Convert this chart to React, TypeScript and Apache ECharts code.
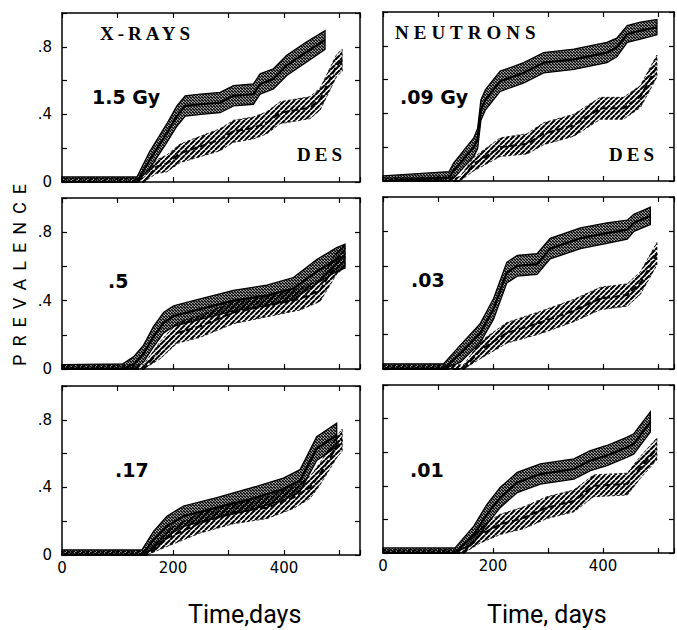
import React, { useEffect, useRef } from 'react';
import * as echarts from 'echarts';

// Each point: [day, prevalence, half-width of the hatched confidence band]
type Pt = [number, number, number];

// X-RAYS 1.5 Gy
const xray15Irr: Pt[] = [[0,0,.03],[135,0,.03],[158,.13,.05],[189,.29,.055],[207,.39,.06],[222,.45,.06],[250,.46,.06],[285,.47,.06],[309,.51,.06],[345,.52,.06],[357,.58,.06],[381,.61,.06],[405,.69,.06],[441,.77,.06],[474,.84,.055]];
const xray15Des: Pt[] = [[0,0,.025],[147,0,.025],[170,.09,.04],[189,.11,.05],[213,.17,.055],[249,.21,.06],[285,.25,.065],[309,.30,.065],[345,.32,.065],[369,.35,.065],[393,.41,.065],[429,.43,.065],[447,.44,.065],[465,.49,.065],[480,.59,.065],[495,.69,.065],[505,.72,.065]];
// NEUTRONS .09 Gy
const neut09Irr: Pt[] = [[0,0,.03],[120,.02,.035],[128,.06,.045],[165,.20,.055],[172,.25,.06],[178,.42,.06],[186,.48,.06],[213,.59,.06],[256,.64,.06],[292,.70,.06],[347,.72,.06],[407,.76,.06],[425,.79,.055],[444,.87,.05],[468,.89,.05],[498,.91,.045]];
const neut09Des: Pt[] = [[0,0,.02],[140,0,.025],[165,.10,.04],[213,.20,.055],[262,.22,.06],[292,.28,.065],[347,.33,.065],[395,.43,.065],[437,.43,.065],[468,.50,.065],[498,.68,.065]];
// X-RAYS .5 Gy
const xray05Irr: Pt[] = [[0,0,.025],[110,0,.03],[130,.03,.045],[147,.09,.05],[165,.19,.06],[183,.27,.06],[201,.31,.06],[249,.35,.06],[309,.40,.06],[369,.43,.06],[417,.47,.065],[459,.57,.07],[495,.64,.07],[510,.66,.07]];
const xray05Des: Pt[] = [[0,0,.02],[147,0,.025],[177,.11,.05],[207,.21,.06],[249,.25,.065],[309,.33,.065],[369,.37,.065],[429,.41,.065],[465,.46,.065],[495,.62,.065],[510,.66,.065]];
// NEUTRONS .03 Gy
const neut03Irr: Pt[] = [[0,0,.03],[110,0,.03],[141,.09,.05],[177,.21,.055],[201,.35,.06],[225,.56,.06],[244,.60,.06],[280,.61,.06],[304,.70,.06],[359,.76,.06],[407,.79,.06],[444,.81,.055],[456,.85,.05],[486,.89,.05]];
const neut03Des: Pt[] = [[0,0,.02],[147,0,.025],[177,.11,.05],[225,.21,.06],[286,.27,.065],[347,.34,.065],[395,.41,.065],[444,.43,.065],[468,.50,.065],[498,.67,.065]];
// X-RAYS .17 Gy
const xray17Irr: Pt[] = [[0,0,.03],[144,0,.03],[165,.09,.05],[189,.17,.06],[219,.23,.06],[279,.28,.06],[339,.33,.065],[399,.39,.065],[429,.44,.065],[459,.63,.07],[495,.71,.07]];
const xray17Des: Pt[] = [[0,0,.02],[153,0,.025],[189,.10,.05],[249,.19,.06],[309,.25,.065],[369,.28,.065],[417,.34,.065],[447,.40,.065],[465,.48,.065],[495,.64,.065],[505,.68,.065]];
// NEUTRONS .01 Gy
const neut01Irr: Pt[] = [[0,0,.03],[131,0,.03],[165,.11,.05],[189,.23,.06],[213,.33,.06],[244,.42,.06],[286,.47,.06],[347,.50,.06],[377,.55,.06],[407,.58,.06],[444,.63,.06],[456,.65,.06],[486,.78,.06]];
const neut01Des: Pt[] = [[0,0,.02],[147,0,.025],[177,.11,.05],[213,.17,.06],[256,.21,.065],[298,.27,.065],[347,.31,.065],[383,.40,.065],[444,.41,.065],[468,.51,.065],[498,.62,.065]];

const Y_LABELED = [0, 0.4, 0.8];
const Y_LABEL_TEXT = ['0', '.4', '.8'];
const X_LABELED = [0, 200, 400];
const DOSE_LABELS = ['1.5 Gy', '.09 Gy', '.5', '.03', '.17', '.01'];
const SERIES_SETS = [
  [xray15Irr, xray15Des], [neut09Irr, neut09Des],
  [xray05Irr, xray05Des], [neut03Irr, neut03Des],
  [xray17Irr, xray17Des], [neut01Irr, neut01Des],
];

// layout
const GRIDS = [
  { left: 62, top: 13, width: 298, height: 169 },
  { left: 383, top: 12, width: 291, height: 169 },
  { left: 62, top: 198, width: 298, height: 171 },
  { left: 383, top: 197, width: 291, height: 172 },
  { left: 62, top: 386, width: 298, height: 169 },
  { left: 383, top: 385, width: 291, height: 168 },
];
const X_MAX = [537, 529];
const DOSE_POS = [[92, 97], [400, 97], [108, 281], [411, 280], [115, 470], [410, 470]];

const SPACING: Record<string, number> = { PREVALENCE: 8, 'X-RAYS': 4, NEUTRONS: 5, DES: 4 };

function hatch(size: number, lw: number, back: boolean, color: string) {
  const c = document.createElement('canvas');
  c.width = size; c.height = size;
  const ctx = c.getContext('2d')!;
  ctx.strokeStyle = color;
  ctx.lineWidth = lw;
  for (let k = -1; k <= 1; k++) {
    ctx.beginPath();
    if (back) { ctx.moveTo(k * size, 0); ctx.lineTo(k * size + size, size); }
    else { ctx.moveTo(k * size, size); ctx.lineTo(k * size + size, 0); }
    ctx.stroke();
  }
  return { image: c, repeat: 'repeat' };
}

export default function App() {
  const ref = useRef<HTMLDivElement>(null);
  useEffect(() => {
    if (!ref.current) return;
    const chart = echarts.init(ref.current, null, { renderer: 'svg' });
    const dense = hatch(3, 1.6, true, '#000');
    const sparse = hatch(5, 2.1, false, '#000');
    const axisLineStyle = { color: '#000', width: 1.5 };
    const tickStyle = { color: '#000', width: 1.2 };
    const xAxes: any[] = [];
    const yAxes: any[] = [];
    const series: any[] = [];
    GRIDS.forEach((_, gi) => {
      const col = gi % 2;
      const row = Math.floor(gi / 2);
      const base = {
        type: 'value', min: 0, max: X_MAX[col], interval: 100, gridIndex: gi,
        splitLine: { show: false },
        axisLine: { show: true, onZero: false, lineStyle: axisLineStyle },
        axisTick: { show: true, inside: true, length: 5, lineStyle: tickStyle },
      };
      xAxes.push({
        ...base, position: 'bottom',
        axisLabel: {
          show: row === 2, margin: 5, color: '#000', fontSize: 15, fontFamily: 'DejaVu Sans',
          formatter: (v: number) => (X_LABELED.includes(v) ? String(v) : ''),
        },
      });
      xAxes.push({ ...base, position: 'top', axisLabel: { show: false } });
      const ybase = {
        type: 'value', min: 0, max: 1, interval: 0.2, gridIndex: gi,
        splitLine: { show: false },
        axisLine: { show: true, onZero: false, lineStyle: axisLineStyle },
        axisTick: { show: true, inside: true, length: 5, lineStyle: tickStyle },
      };
      yAxes.push({
        ...ybase, position: 'left',
        axisLabel: {
          show: col === 0, margin: 10, color: '#000', fontSize: 15, fontFamily: 'DejaVu Sans',
          formatter: (v: number) => {
            const i = Y_LABELED.findIndex((t) => Math.abs(t - v) < 1e-6);
            return i >= 0 ? Y_LABEL_TEXT[i] : '';
          },
        },
      });
      yAxes.push({ ...ybase, position: 'right', axisLabel: { show: false } });

      const [irr, des] = SERIES_SETS[gi];
      const band = (pts: Pt[], fill: any, dash: any, lw: number, z: number) => ({
        type: 'custom', xAxisIndex: 2 * gi, yAxisIndex: 2 * gi, data: pts,
        encode: { x: 0, y: 1 }, silent: true, z,
        renderItem: (params: any, api: any) => {
          if (params.dataIndex !== 0) return null;
          const upper = pts.map((p) => api.coord([p[0], Math.min(1, p[1] + p[2])]));
          const lower = pts.map((p) => api.coord([p[0], Math.max(0, p[1] - p[2])])).reverse();
          return {
            type: 'polygon',
            shape: { points: upper.concat(lower) },
            style: { fill, stroke: '#000', lineWidth: lw, lineDash: dash },
          };
        },
      });
      series.push(band(des, sparse, [3, 2], 0.8, 2));
      series.push(band(irr, dense, null, 1.3, 3));
      series.push({
        type: 'line', xAxisIndex: 2 * gi, yAxisIndex: 2 * gi, z: 4,
        data: des.map((p) => [p[0], p[1]]), showSymbol: false, silent: true,
        lineStyle: { color: '#000', width: 2, type: [7, 3] },
      });
      series.push({
        type: 'line', xAxisIndex: 2 * gi, yAxisIndex: 2 * gi, z: 5,
        data: irr.map((p) => [p[0], p[1]]), showSymbol: false, silent: true,
        lineStyle: { color: '#000', width: 2.2 },
      });
    });

    const serifTitle = { fontFamily: 'Liberation Serif', fontWeight: 'bold', fontSize: 19, fill: '#000', textVerticalAlign: 'top' };
    const doseStyle = { fontFamily: 'DejaVu Sans', fontWeight: 'bold', fontSize: 19, fill: '#000', textVerticalAlign: 'middle' };
    const graphics: any[] = [
      { type: 'text', x: 100, y: 24, style: { ...serifTitle, text: 'X-RAYS' } },
      { type: 'text', x: 395, y: 23, style: { ...serifTitle, text: 'NEUTRONS' } },
      { type: 'text', x: 297, y: 145, style: { ...serifTitle, text: 'DES' } },
      { type: 'text', x: 609, y: 145, style: { ...serifTitle, text: 'DES' } },
      {
        type: 'text', x: 19, y: 271, rotation: Math.PI / 2,
        style: { text: 'PREVALENCE', fontFamily: 'Roboto', fontSize: 18, fill: '#000', textAlign: 'center', textVerticalAlign: 'middle' },
      },
      { type: 'text', x: 188, y: 614, style: { text: 'Time,days', fontFamily: 'Roboto', fontSize: 25, fill: '#000', textVerticalAlign: 'middle' } },
      { type: 'text', x: 487, y: 614, style: { text: 'Time, days', fontFamily: 'Roboto', fontSize: 25, fill: '#000', textVerticalAlign: 'middle' } },
    ];
    DOSE_LABELS.forEach((t, i) => {
      graphics.push({ type: 'text', x: DOSE_POS[i][0], y: DOSE_POS[i][1], style: { ...doseStyle, text: t } });
    });

    chart.setOption({
      animation: false,
      backgroundColor: '#fff',
      grid: GRIDS.map((g) => ({ ...g, containLabel: false })),
      xAxis: xAxes,
      yAxis: yAxes,
      series,
      graphic: graphics,
    });

    const applySpacing = () => {
      const dom = ref.current;
      if (!dom) return;
      dom.querySelectorAll('text').forEach((t) => {
        const s = SPACING[(t.textContent || '').trim()];
        if (s != null) t.setAttribute('letter-spacing', String(s));
      });
    };
    applySpacing();
    chart.on('finished', applySpacing);
    const timers = [setTimeout(applySpacing, 50), setTimeout(applySpacing, 300)];
    return () => {
      timers.forEach(clearTimeout);
      chart.dispose();
    };
  }, []);
  return <div ref={ref} style={{ position: 'fixed', left: 0, top: 0, width: 677, height: 630, background: '#fff' }} />;
}
